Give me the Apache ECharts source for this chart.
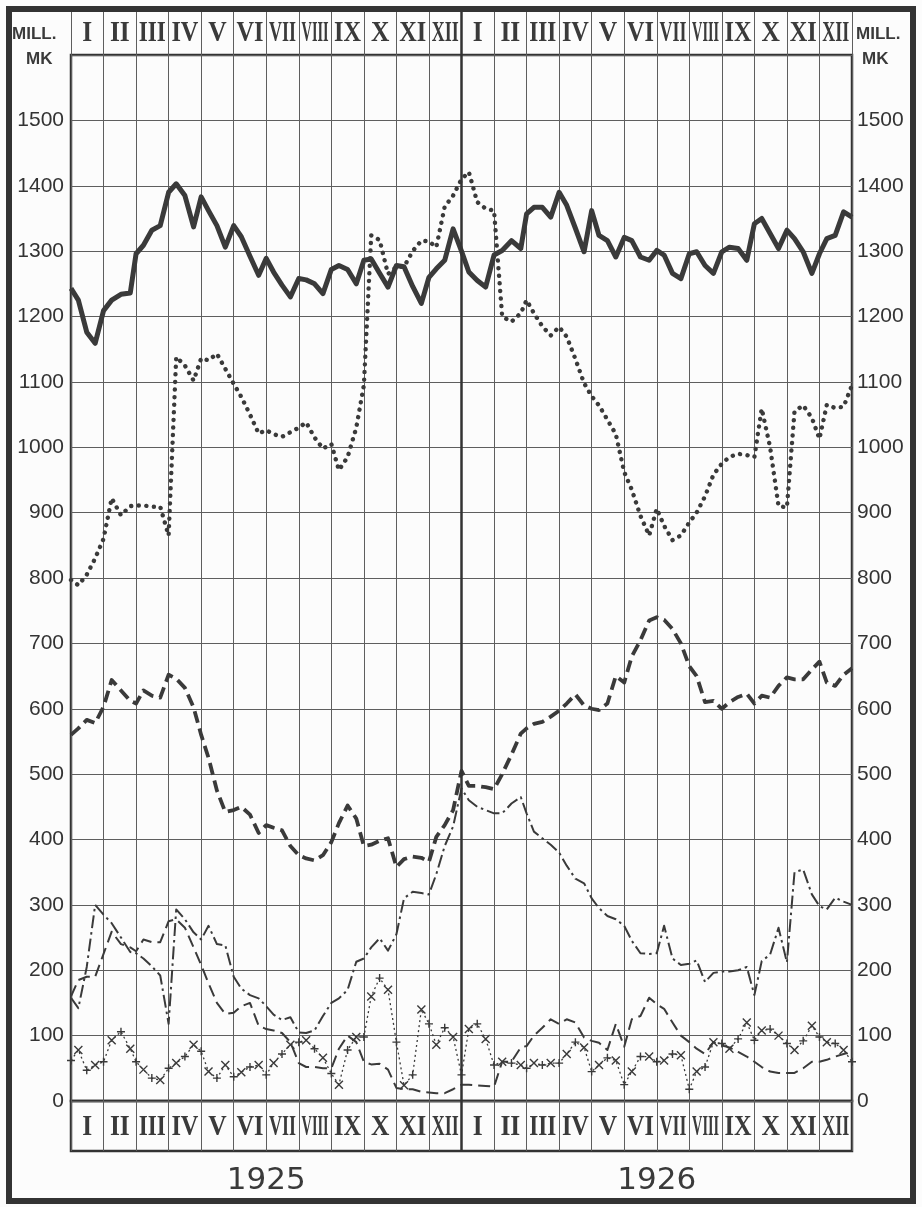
<!DOCTYPE html>
<html><head><meta charset="utf-8">
<script src="https://cdn.jsdelivr.net/npm/echarts@6/dist/echarts.min.js"></script>
<style>html,body{margin:0;padding:0;background:#fcfcfc}#c{width:922px;height:1207px}</style>
</head><body><div id="c"></div>
<script>
// ---- tick labels / categories ----
const MONTHS = ['I','II','III','IV','V','VI','VII','VIII','IX','X','XI','XII',
                'I','II','III','IV','V','VI','VII','VIII','IX','X','XI','XII'];
const YEARS = ['1925', '1926'];
const UNIT = ['MILL.', 'MK'];
const DAYS_IN_MONTH = [31,28,31,30,31,30,31,31,30,31,30,31, 31,28,31,30,31,30,31,31,30,31,30,31];
const REPORT_DAYS = [7, 15, 23, 0]; // 0 = last day of month

// ---- series values (start point 31.XII.1924, then 7th,15th,23rd,last of each month) ----
const circulation = [1243,
 1225,1176,1159,1209, 1225,1234,1236,1296, 1309,1332,1339,1390, 1403,1385,1337,1383,
 1362,1339,1306,1339, 1322,1292,1263,1289, 1268,1248,1230,1258, 1256,1250,1235,1272,
 1278,1272,1250,1286, 1288,1266,1245,1278, 1276,1246,1220,1260, 1273,1286,1334,1300,
 1268,1255,1245,1294, 1301,1316,1304,1357, 1367,1367,1352,1390, 1370,1335,1299,1362,
 1324,1316,1291,1321, 1316,1291,1286,1301, 1294,1266,1258,1296, 1299,1278,1266,1299,
 1306,1304,1286,1342, 1350,1327,1304,1332, 1319,1299,1266,1296, 1319,1324,1360,1352];
const dotted = [797,
 789,805,830,860, 922,896,910,911, 911,909,909,865, 1138,1125,1102,1136,
 1133,1143,1120,1097, 1077,1050,1021,1026, 1020,1016,1023,1030, 1038,1015,998,1005,
 965,985,1030,1095, 1324,1317,1265,1276, 1276,1300,1316,1315, 1306,1368,1385,1410,
 1421,1375,1365,1362, 1200,1192,1205,1225, 1205,1185,1171,1184, 1169,1135,1098,1078,
 1064,1042,1020,962, 935,895,865,906, 880,858,865,885, 900,925,958,975,
 985,990,988,985, 1059,1000,910,908, 1055,1064,1045,1013, 1065,1060,1062,1095];
const thickDashed = [560,
 570,583,578,603, 644,628,612,608, 628,620,617,652, 646,632,602,560,
 525,475,442,445, 450,438,410,422, 418,414,390,376, 371,368,376,396,
 425,452,432,390, 392,398,402,358, 370,374,372,366, 404,422,445,505,
 482,482,480,477, 500,530,562,570, 577,580,588,597, 608,622,605,600,
 598,608,650,640, 680,705,735,740, 736,722,700,665, 650,610,612,600,
 610,618,623,608, 620,617,635,648, 645,645,660,672, 640,635,652,662];
const dashDot = [158,
 142,205,300,285, 272,250,228,226, 218,206,192,118, 293,278,258,247,
 268,240,238,190, 172,162,157,145, 132,124,128,105, 104,108,130,150,
 157,170,213,218, 235,249,230,255, 310,320,318,316, 347,390,420,478,
 460,450,445,440, 440,455,465,440, 412,402,392,380, 360,340,333,310,
 295,283,278,268, 245,226,225,226, 268,218,208,210, 215,182,196,198,
 198,200,205,162, 214,224,265,212, 350,354,316,298, 293,311,305,300];
const thinDashed = [160,
 185,190,190,225, 259,240,235,229, 247,243,243,275, 278,265,235,208,
 180,150,133,135, 145,150,115,110, 108,104,90,58, 52,52,50,50,
 80,100,90,60, 56,57,48,20, 18,18,14,13, 12,12,18,25,
 25,24,23,22, 60,60,82,84, 100,112,125,118, 125,120,97,92,
 89,78,118,83, 125,130,158,148, 141,120,100,90, 80,72,90,85,
 82,75,68,60, 52,45,43,43, 43,50,60,60, 63,68,72,75];
const crosses = [62,
 78,47,55,60, 93,106,80,60, 48,35,32,50, 58,68,86,76,
 45,35,55,37, 44,52,55,40, 58,72,86,90, 93,80,66,42,
 25,78,98,98, 160,188,170,90, 24,40,140,118, 86,112,98,40,
 110,118,95,55, 60,58,55,50, 58,55,58,58, 72,90,82,45,
 55,66,62,25, 45,68,68,60, 62,72,70,18, 45,52,90,88,
 80,95,120,93, 108,110,100,88, 78,92,115,98, 90,88,78,60];

// observation positions in month units
const X_POS = [0];
DAYS_IN_MONTH.forEach((dim, m) => REPORT_DAYS.forEach(d => X_POS.push(m + (d || dim) / dim)));
const pairs = arr => arr.map((v, i) => [X_POS[i], v]);

const INK = '#3a3a3a';
const GRIDC = '#5e5e5e';
const L = 71, R = 70;
const EM = {I: 0.389, V: 0.722, X: 0.722};
const PLUS = 'path://M5,0L5,10M0,5L10,5';
const CROSS = 'path://M1,1L9,9M9,1L1,9';

function monthCell(params, api) {
  const i = api.value(0);
  const c = api.coord([i + 0.5, 0.5]);
  const label = MONTHS[i];
  const fs = 30;
  const natural = label.split('').reduce((s, ch) => s + EM[ch], 0) * fs;
  const sx = Math.min(0.85, 27 / natural);
  const children = [{
    type: 'text', x: c[0], y: c[1] + 1, scaleX: sx,
    style: {text: label, fontSize: fs, fontFamily: 'Liberation Serif', fontWeight: 'bold',
            fill: INK, align: 'center', verticalAlign: 'middle'}
  }];
  if (i === 12) {
    const t = api.coord([12, 1]), b = api.coord([12, 0]);
    children.push({type: 'line', shape: {x1: t[0], y1: t[1], x2: b[0], y2: b[1]},
                   style: {stroke: '#333', lineWidth: 2.5}});
  }
  return {type: 'group', children};
}

const valX = (g) => ({gridIndex: g, type: 'value', min: 0, max: 24, interval: 1,
  axisLabel: {show: false}, axisTick: {show: false}, axisLine: {show: false},
  splitLine: {show: true, lineStyle: {color: GRIDC, width: 1}}});
const hiddenY = (g) => ({gridIndex: g, type: 'value', min: 0, max: 1, show: false});
const yLabel = {fontSize: 21, fontFamily: 'Liberation Sans', color: '#333',
  formatter: v => (v >= 1600 ? '' : String(v))};

const lineSeries = (data, style, extra) => Object.assign({
  type: 'line', xAxisIndex: 0, yAxisIndex: 0, data: pairs(data),
  symbol: 'none', showSymbol: false, silent: true, animation: false,
  lineStyle: Object.assign({color: INK, join: 'round'}, style)
}, extra || {});

const option = {
  backgroundColor: '#fcfcfc',
  animation: false,
  grid: [
    {left: L, right: R, top: 55, bottom: 106, show: true, borderColor: '#333', borderWidth: 2.5, outerBoundsMode: 'none'},
    {left: L, right: R, top: 10, height: 45, show: false, outerBoundsMode: 'none'},
    {left: L, right: R, top: 1101, height: 50, show: true, borderColor: '#333', borderWidth: 2.5, outerBoundsMode: 'none'},
    {left: L, right: R, top: 1151, height: 48, show: false, outerBoundsMode: 'none'}
  ],
  xAxis: [valX(0), valX(1), valX(2),
    {gridIndex: 3, type: 'category', data: YEARS, position: 'top',
     axisLine: {show: false}, axisTick: {show: false}, splitLine: {show: false},
     axisLabel: {inside: true, margin: 14, fontSize: 31, fontFamily: 'DejaVu Sans', color: INK}}],
  yAxis: [
    {gridIndex: 0, type: 'value', min: 0, max: 1600, interval: 100, position: 'left',
     axisLine: {show: false}, axisTick: {show: false},
     splitLine: {show: true, lineStyle: {color: GRIDC, width: 1}},
     axisLabel: Object.assign({margin: 7}, yLabel)},
    {gridIndex: 0, type: 'value', min: 0, max: 1600, interval: 100, position: 'right',
     axisLine: {show: false}, axisTick: {show: false}, splitLine: {show: false},
     axisLabel: Object.assign({margin: 5}, yLabel)},
    hiddenY(1), hiddenY(2), hiddenY(3)
  ],
  series: [
    lineSeries(circulation, {width: 5}, {
      markLine: {silent: true, symbol: 'none', label: {show: false}, animation: false,
        lineStyle: {color: '#333', width: 2.5, type: 'solid'}, data: [{xAxis: 12}]}
    }),
    lineSeries(dotted, {width: 4.4, type: [0.1, 7.5], cap: 'round'}),
    lineSeries(thickDashed, {width: 3.8, type: [12, 6]}),
    lineSeries(dashDot, {width: 2, type: [13, 4, 2.5, 4]}),
    lineSeries(thinDashed, {width: 2, type: [12, 6]}),
    lineSeries(crosses, {width: 1.3, type: [2, 3]}, {
      showSymbol: true, symbolSize: 8,
      symbol: (v, p) => (p.dataIndex % 2 ? CROSS : PLUS),
      itemStyle: {color: 'transparent', borderColor: INK, borderWidth: 1.4}
    }),
    {type: 'custom', xAxisIndex: 1, yAxisIndex: 2, silent: true, renderItem: monthCell,
     data: MONTHS.map((m, i) => [i, 0.5]), animation: false},
    {type: 'custom', xAxisIndex: 2, yAxisIndex: 3, silent: true, renderItem: monthCell,
     data: MONTHS.map((m, i) => [i, 0.5]), animation: false}
  ],
  graphic: [
    {type: 'rect', shape: {x: 9, y: 9, width: 904, height: 1192}, z: 100, silent: true,
     style: {fill: 'none', stroke: '#333', lineWidth: 6}},
    {type: 'text', left: 12, top: 26, style: {text: UNIT[0], font: 'bold 17px "Liberation Sans"', fill: INK}},
    {type: 'text', left: 26, top: 51, style: {text: UNIT[1], font: 'bold 17px "Liberation Sans"', fill: INK}},
    {type: 'text', left: 856, top: 26, style: {text: UNIT[0], font: 'bold 17px "Liberation Sans"', fill: INK}},
    {type: 'text', left: 862, top: 51, style: {text: UNIT[1], font: 'bold 17px "Liberation Sans"', fill: INK}}
  ]
};

const chart = echarts.init(document.getElementById('c'));
chart.setOption(option);
</script>
</body></html>
